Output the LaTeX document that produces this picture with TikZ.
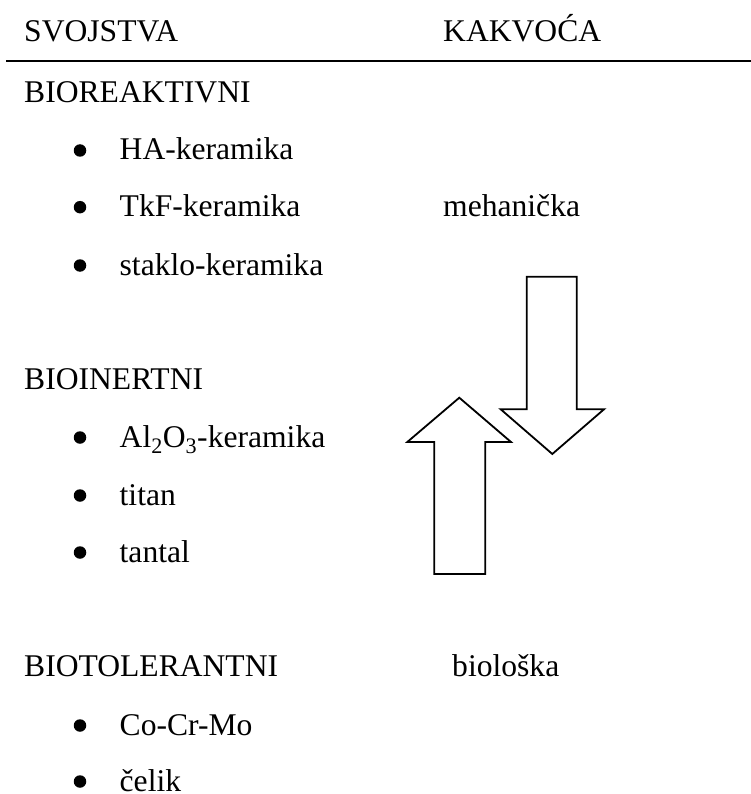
\documentclass[tikz,border=0pt]{standalone}
\usepackage{fontspec}
\setmainfont{Liberation Serif}
\begin{document}
\begin{tikzpicture}[x=1pt,y=-1pt,
  txt/.style={anchor=base west, inner sep=0pt, font=\fontsize{31.6}{38}\selectfont},
  dot/.style={circle, fill=black, inner sep=0pt, minimum size=12.5pt},
  blockarrow/.style={draw=black, line width=1.8pt, line join=miter, fill=white},
  rule/.style={line width=2.5pt}]
\useasboundingbox (0,0) rectangle (751,794);
% header
\node[txt] (h1) at (24,41.5) {SVOJSTVA};
\node[txt] (h2) at (443,41.5) {KAKVOĆA};
\coordinate (rl) at (6,61);
\coordinate (rr) at (751,61);
\draw[rule] (rl) -- (rr);
% groups
\node[txt] (g1) at (24,102.5) {BIOREAKTIVNI};
\node[txt] (g2) at (24,389.3) {BIOINERTNI};
\node[txt] (g3) at (24,676) {BIOTOLERANTNI};
% items
\foreach \y/\t/\n in {160/HA-keramika/i1, 216.7/TkF-keramika/i2, 275/staklo-keramika/i3,
  447/{Al\textsubscript{2}O\textsubscript{3}-keramika}/i4, 505/titan/i5, 562/tantal/i6,
  735/Co-Cr-Mo/i7, 791/čelik/i8}{
  \node[txt] (\n) at (119.5,\y) {\t};
  \node[dot] (b\n) at (80,\y-9.5) {};
}
% quality labels
\node[txt] (q1) at (443,216.7) {mehanička};
\node[txt] (q2) at (452,676.5) {biološka};
% block arrows
\draw[blockarrow] (526.7,276.7) -- (576.7,276.7) -- (576.7,409.3) -- (604,409.3)
  -- (552.3,454) -- (500.7,409.3) -- (526.7,409.3) -- cycle;
\draw[blockarrow] (434.3,574) -- (485.3,574) -- (485.3,442) -- (511,442)
  -- (459.3,397.7) -- (407.3,442) -- (434.3,442) -- cycle;
\end{tikzpicture}
\end{document}
